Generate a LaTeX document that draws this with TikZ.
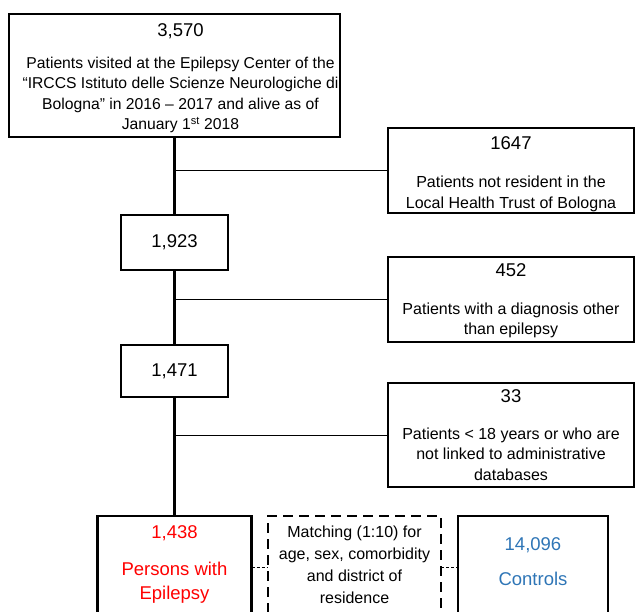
\documentclass[tikz,border=0pt]{standalone}
\usepackage{fontspec}
\setmainfont{Liberation Sans}
\usetikzlibrary{positioning}
\definecolor{pweRed}{RGB}{255,0,0}
\definecolor{ctrlBlue}{RGB}{46,117,182}
\newcommand{\numfont}{\fontsize{18.5}{22}\selectfont}
\newcommand{\boxtail}{\rule[-45pt]{0pt}{0pt}}
\newcommand{\rowshift}{\hspace*{12pt}}

\begin{document}
\begin{tikzpicture}[
    x=1pt, y=-1pt,
    box/.style={draw, line width=2.6pt, align=center, inner sep=0pt, outer sep=0pt,
        font=\fontsize{16}{20.5}\selectfont},
    side/.style={box, minimum width=246pt},
    count/.style={box, minimum width=107pt, font=\numfont},
    bottombox/.style={box, anchor=north, inner ysep=10pt},
    link/.style={line width=0.8pt},
    trunk/.style={line width=3.8pt},
    matchlink/.style={line width=0.8pt, dash pattern=on 3pt off 2pt},
]
    \useasboundingbox (0,0) rectangle (635,611);
    \clip (0,0) rectangle (635,611);

    % patient flow, top to bottom
    \node [box, minimum width=331pt, minimum height=123pt,
        font=\fontsize{15.7}{20.5}\selectfont] (start) at (174.5,75.5)
        {\rowshift{\numfont\rule{0pt}{18pt}3,570}\\[11.5pt]
         \rowshift Patients visited at the Epilepsy Center of the\\
         \rowshift“IRCCS Istituto delle Scienze Neurologiche di\\
         \rowshift Bologna” in 2016 – 2017 and alive as of\\
         \rowshift January 1\textsuperscript{st} 2018};
    \node [count, minimum height=55pt] (n1923) at (174.5,242.5) {1,923};
    \node [count, minimum height=52pt] (n1471) at (174.5,371) {1,471};

    % exclusions
    \node [side, minimum height=85pt] (nonres) at (511,170.5)
        {{\numfont\rule{0pt}{20pt}1647}\\[17.5pt]
         Patients not resident in the\\
         Local Health Trust of Bologna};
    \node [side, minimum height=85pt] (otherdx) at (511,299.5)
        {{\numfont\rule{0pt}{15pt}452}\\[17.5pt]
         Patients with a diagnosis other\\
         than epilepsy};
    \node [side, minimum height=104pt] (under18) at (511,435)
        {{\numfont 33}\\[16.5pt]
         Patients < 18 years or who are\\
         not linked to administrative\\
         databases};

    % cohorts
    \node [bottombox, minimum width=154pt, text=pweRed,
        font=\fontsize{18.5}{24}\selectfont] (pwe) at (174.5,516)
        {1,438\\[13pt]Persons with\\Epilepsy\boxtail};
    \node [bottombox, minimum width=173pt, dash pattern=on 10pt off 6pt,
        font=\fontsize{16}{22}\selectfont] (matching) at (354.5,516)
        {Matching (1:10) for\\age, sex, comorbidity\\and district of\\residence\boxtail};
    \node [bottombox, minimum width=150pt, inner ysep=22pt, text=ctrlBlue,
        font=\fontsize{18.5}{24}\selectfont] (controls) at (533,516)
        {14,096\\[11pt]Controls\boxtail};

    \draw [trunk] (start.south) -- (n1923.north);
    \draw [trunk] (n1923.south) -- (n1471.north);
    \draw [trunk] (n1471.south) -- (pwe.north);

    \draw [link] (nonres.west -| start.south) -- (nonres.west);
    \draw [link] (otherdx.west -| start.south) -- (otherdx.west);
    \draw [link] (under18.west -| start.south) -- (under18.west);

    \coordinate (mlink) at (0,567);
    \draw [matchlink] (pwe.east |- mlink) -- (matching.west |- mlink);
    \draw [matchlink] (matching.east |- mlink) -- (controls.west |- mlink);
\end{tikzpicture}
\end{document}
